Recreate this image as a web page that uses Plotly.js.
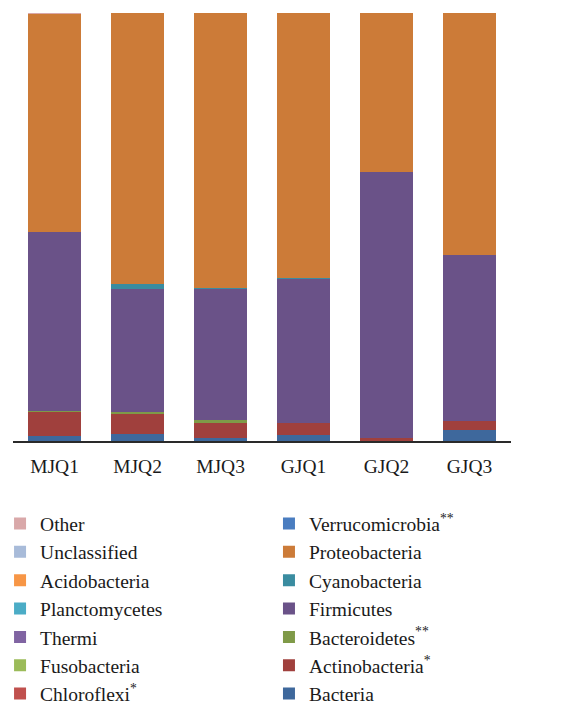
<!DOCTYPE html>
<html>
<head>
<meta charset="utf-8">
<script src="https://cdn.plot.ly/plotly-3.0.1.min.js"></script>
<style>html,body{margin:0;padding:0;background:#fff;}</style>
</head>
<body>
<div id="chart" style="width:578px;height:715px;"></div>
<script>
// Samples (x categories)
const samples = ["MJQ1", "MJQ2", "MJQ3", "GJQ1", "GJQ2", "GJQ3"];

// Relative abundance (%) per phylum, stacked bottom -> top
const bacteria        = [1.2, 1.6, 0.7, 1.5, 0.1, 2.5];
const actinobacteria  = [5.5, 4.6, 3.6, 2.7, 0.7, 2.2];
const bacteroidetes   = [0.3, 0.5, 0.6, 0.0, 0.0, 0.0];
const firmicutes      = [41.9, 28.7, 30.6, 33.7, 62.0, 38.8];
const cyanobacteria   = [0.0, 1.3, 0.2, 0.2, 0.0, 0.0];
const proteobacteria  = [50.9, 63.2, 64.2, 61.9, 37.2, 56.5];
const verrucomicrobia = [0.0, 0.0, 0.0, 0.0, 0.0, 0.0];
const chloroflexi     = [0.0, 0.0, 0.0, 0.0, 0.0, 0.0];
const fusobacteria    = [0.0, 0.0, 0.0, 0.0, 0.0, 0.0];
const thermi          = [0.0, 0.0, 0.0, 0.0, 0.0, 0.0];
const planctomycetes  = [0.0, 0.0, 0.0, 0.0, 0.0, 0.0];
const acidobacteria   = [0.0, 0.0, 0.0, 0.0, 0.0, 0.0];
const unclassified    = [0.0, 0.0, 0.0, 0.0, 0.0, 0.0];
const other           = [0.2, 0.1, 0.1, 0.0, 0.0, 0.0];

const seriesNames = ["Bacteria", "Actinobacteria<sup>*</sup>", "Bacteroidetes<sup>**</sup>", "Firmicutes",
  "Cyanobacteria", "Proteobacteria", "Verrucomicrobia<sup>**</sup>", "Chloroflexi<sup>*</sup>",
  "Fusobacteria", "Thermi", "Planctomycetes", "Acidobacteria", "Unclassified", "Other"];
const seriesValues = [bacteria, actinobacteria, bacteroidetes, firmicutes, cyanobacteria, proteobacteria,
  verrucomicrobia, chloroflexi, fusobacteria, thermi, planctomycetes, acidobacteria, unclassified, other];
const seriesColors = ["#3E689C", "#A0403D", "#7F9A48", "#6A5288", "#3A8CA0", "#CC7B38",
  "#4A7DC0", "#C0504D", "#9BBB59", "#8064A2", "#4BACC6", "#F79646", "#A8BBD9", "#D9A8A9"];

const traces = seriesNames.map((name, i) => ({
  type: "bar",
  name: name,
  x: samples,
  y: seriesValues[i],
  marker: {color: seriesColors[i], line: {width: 0}},
  legend: i < 7 ? "legend2" : "legend",
  hoverinfo: "name+y"
}));

const fontFam = "Liberation Serif, DejaVu Serif, serif";
const legFont = {family: fontFam, size: 19.5, color: "#1a1a1a"};
const layout = {
  width: 578, height: 715,
  margin: {l: 13, r: 67, t: 13, b: 274, autoexpand: false},
  paper_bgcolor: "#fff", plot_bgcolor: "#fff",
  barmode: "stack",
  bargap: 0.35,
  font: {family: fontFam, size: 19, color: "#1a1a1a"},
  xaxis: {
    showline: true, linecolor: "#2a2a2a", linewidth: 1.5,
    ticks: "", showgrid: false, zeroline: false, automargin: false,
    ticklabelstandoff: 7,
    tickfont: {family: fontFam, size: 19.5, color: "#1a1a1a"}
  },
  yaxis: {range: [0, 100], visible: false, showgrid: false, zeroline: false, automargin: false},
  legend: {
    x: -0.026, xanchor: "left", y: -0.148, yanchor: "top",
    traceorder: "reversed", orientation: "v",
    font: legFont,
    bgcolor: "rgba(0,0,0,0)", tracegroupgap: 0
  },
  legend2: {
    x: 0.514, xanchor: "left", y: -0.148, yanchor: "top",
    traceorder: "reversed", orientation: "v",
    font: legFont,
    bgcolor: "rgba(0,0,0,0)", tracegroupgap: 0
  },
  showlegend: true
};

Plotly.newPlot("chart", traces, layout, {displayModeBar: false, staticPlot: true});
</script>
</body>
</html>
